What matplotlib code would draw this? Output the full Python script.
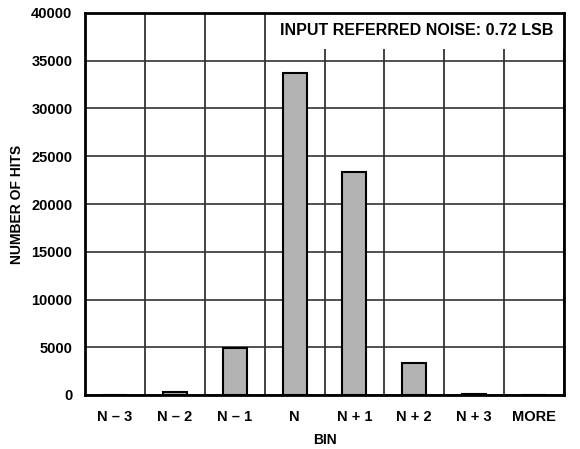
import numpy as np
import matplotlib.pyplot as plt
from matplotlib.patches import Rectangle

plt.rcParams['font.family'] = ['Liberation Sans', 'DejaVu Sans']
plt.rcParams['font.weight'] = 'bold'

# Histogram data
bins = ["N – 3", "N – 2", "N – 1", "N", "N + 1", "N + 2", "N + 3", "MORE"]
hits = [20, 300, 4900, 33700, 23400, 3400, 100, 0]
y_ticks = [0, 5000, 10000, 15000, 20000, 25000, 30000, 35000, 40000]

fig = plt.figure(figsize=(5.8, 4.49), dpi=100)
ax = fig.add_axes([85 / 580, 1 - 395 / 449, 479 / 580, 382 / 449])

x = np.arange(len(bins))
ax.bar(x, hits, width=0.4, color="#b3b3b3", edgecolor="black", linewidth=1.5, zorder=3)

ax.set_xlim(-0.5, len(bins) - 0.5)
ax.set_ylim(0, 40000)
ax.set_yticks(y_ticks)
ax.set_yticklabels([str(t) for t in y_ticks], fontsize=10.5, fontweight="bold")
ax.set_xticks(x)
ax.set_xticklabels(bins, fontsize=10.5, fontweight="bold")
ax.set_xticks(np.arange(len(bins) + 1) - 0.5, minor=True)
ax.tick_params(axis="both", which="both", length=0)
ax.tick_params(axis="x", pad=11)
ax.tick_params(axis="y", pad=9)

ax.grid(True, axis="y", which="major", color="#333333", linewidth=1.2, zorder=1)
ax.grid(True, axis="x", which="minor", color="#222222", linewidth=1.2, zorder=1)
for s in ax.spines.values():
    s.set_linewidth(2)
    s.set_zorder(5)

# white box behind annotation
ax.add_patch(Rectangle((0.388, 0.906), 0.612, 0.094, transform=ax.transAxes,
                       facecolor="white", edgecolor="none", zorder=2))
ax.text(0.978, 0.954, "INPUT REFERRED NOISE: 0.72 LSB", transform=ax.transAxes,
        ha="right", va="center", fontsize=11.5, fontweight="bold", zorder=4)

ax.set_xlabel("BIN", fontsize=10, fontweight="bold", labelpad=6)
ax.set_ylabel("NUMBER OF HITS", fontsize=10, fontweight="bold", labelpad=5)

fig.savefig("out.png", dpi=100)
